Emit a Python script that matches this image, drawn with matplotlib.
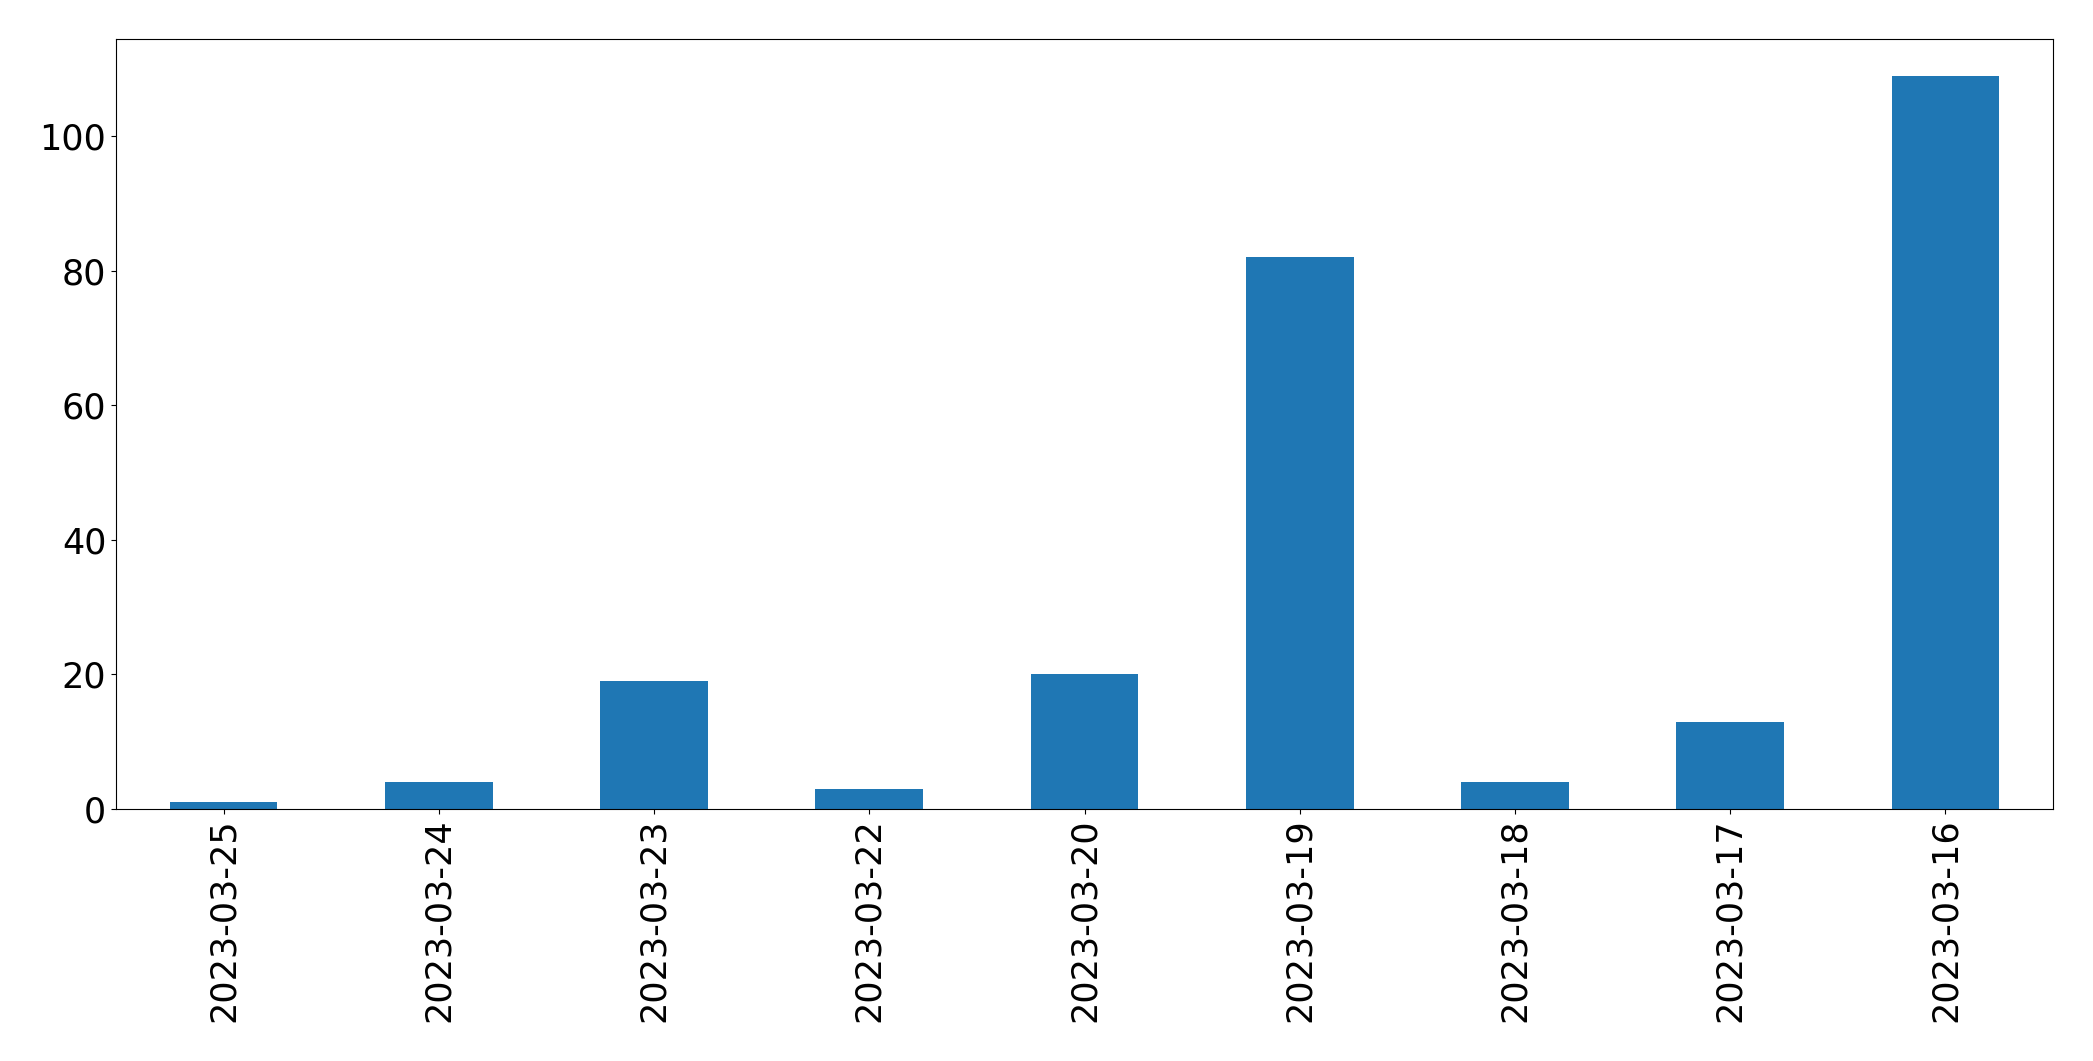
import matplotlib
matplotlib.use("Agg")
import matplotlib.pyplot as plt

dates = ["2023-03-25", "2023-03-24", "2023-03-23", "2023-03-22", "2023-03-20",
         "2023-03-19", "2023-03-18", "2023-03-17", "2023-03-16"]
counts = [1, 4, 19, 3, 20, 82, 4, 13, 109]

fig = plt.figure(figsize=(20.93, 10.61), dpi=100)
ax = fig.add_axes([116/2093, 1-809/1061, (2053-116)/2093, (809-39)/1061])
x = range(len(dates))
ax.bar(x, counts, width=0.5, color="#1f77b4")
ax.set_xlim(-0.5, len(dates) - 0.5)
ax.set_ylim(0, max(counts) * 1.05)
ax.set_xticks(list(x))
ax.set_xticklabels(dates, rotation=90)
ax.tick_params(labelsize=25.2)
fig.savefig("out.png", dpi=100)
